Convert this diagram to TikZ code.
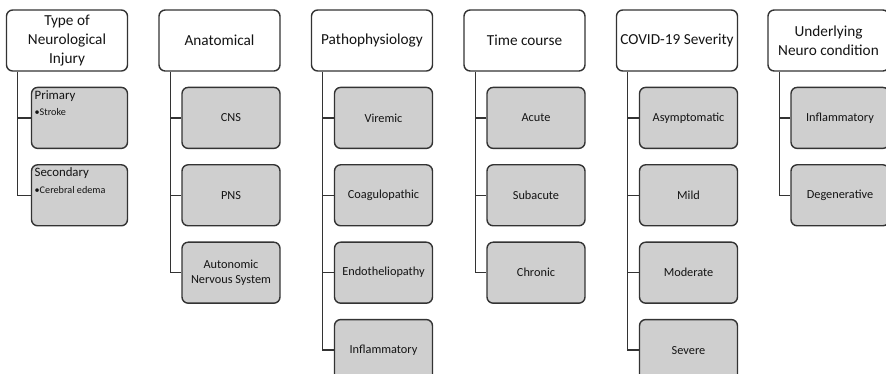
\documentclass[tikz,border=0pt]{standalone}
\usepackage{fontspec}
\setmainfont{Carlito}
\usetikzlibrary{positioning,calc}
\definecolor{boxgray}{HTML}{CFCFCF}
\definecolor{edgegray}{HTML}{333333}
\definecolor{textdark}{HTML}{141414}

\begin{document}
\begin{tikzpicture}[x=0.02cm,y=-0.02cm,
    head/.style={draw=edgegray,line width=0.8pt,rounded corners=3.5pt,fill=white,
      minimum width=2.42cm,minimum height=1.22cm,align=center,inner sep=1pt,
      text=textdark,font=\fontsize{8.7}{10.8}\selectfont},
    leaf/.style={draw=edgegray,line width=0.8pt,rounded corners=3.5pt,fill=boxgray,
      minimum width=1.96cm,minimum height=1.22cm,align=center,inner sep=1pt,
      text=textdark,font=\fontsize{7}{8.5}\selectfont},
    link/.style={draw=edgegray,line width=0.7pt},
    node distance=0.3cm]
  \clip (0,0) rectangle (886,373);
  \path[use as bounding box] (0,0) rectangle (886,373);

  % column headers
  \node[head] (h1) at (67,40.5) {Type of\\Neurological\\Injury};
  \node[head] (h2) at (219.5,40.5) {Anatomical};
  \node[head] (h3) at (372,40.5) {Pathophysiology};
  \node[head] (h4) at (524.5,40.5) {Time course};
  \node[head] (h5) at (677,40.5) {COVID-19 Severity};
  \node[head] (h6) at (828.5,40.5) {Underlying\\Neuro condition};

  % type of injury
  \node[leaf,minimum width=1.92cm,below=of h1.south east,anchor=north east] (c11) {};
  \node[leaf,minimum width=1.92cm,below=of c11] (c12) {};
  \node[anchor=north west,align=left,inner sep=2pt,text=textdark,font=\fontsize{7.3}{9.2}\selectfont]
    (t11) at (c11.north west) {Primary\\{\fontsize{5.8}{6}\selectfont\textbullet Stroke}};
  \node[anchor=north west,align=left,inner sep=2pt,text=textdark,font=\fontsize{7.3}{9.2}\selectfont]
    (t12) at (c12.north west) {Secondary\\{\fontsize{5.8}{6}\selectfont\textbullet Cerebral edema}};

  % anatomical
  \node[leaf,below=of h2.south east,anchor=north east] (c21) {CNS};
  \node[leaf,below=of c21] (c22) {PNS};
  \node[leaf,below=of c22] (c23) {Autonomic\\Nervous System};

  % pathophysiology
  \node[leaf,below=of h3.south east,anchor=north east] (c31) {Viremic};
  \node[leaf,below=of c31] (c32) {Coagulopathic};
  \node[leaf,below=of c32] (c33) {Endotheliopathy};
  \node[leaf,below=of c33] (c34) {Inflammatory};

  % time course
  \node[leaf,below=of h4.south east,anchor=north east] (c41) {Acute};
  \node[leaf,below=of c41] (c42) {Subacute};
  \node[leaf,below=of c42] (c43) {Chronic};

  % severity
  \node[leaf,below=of h5.south east,anchor=north east] (c51) {Asymptomatic};
  \node[leaf,below=of c51] (c52) {Mild};
  \node[leaf,below=of c52] (c53) {Moderate};
  \node[leaf,below=of c53] (c54) {Severe};

  % underlying condition
  \node[leaf,below=of h6.south east,anchor=north east] (c61) {Inflammatory};
  \node[leaf,below=of c61] (c62) {Degenerative};

  % connectors: one trunk per column, then the side branches
  \foreach \h/\last in {1/2,2/3,3/4,4/3,5/4,6/2}{
    \coordinate (r\h) at ($(h\h.south west)+(12,0)$);
    \draw[link] (r\h) |- (c\h\last.west);
  }
  \foreach \h/\k in {1/1,2/1,2/2,3/1,3/2,3/3,4/1,4/2,5/1,5/2,5/3,6/1}
    \draw[link] (c\h\k.west) -- (c\h\k.west -| r\h);
\end{tikzpicture}
\end{document}
